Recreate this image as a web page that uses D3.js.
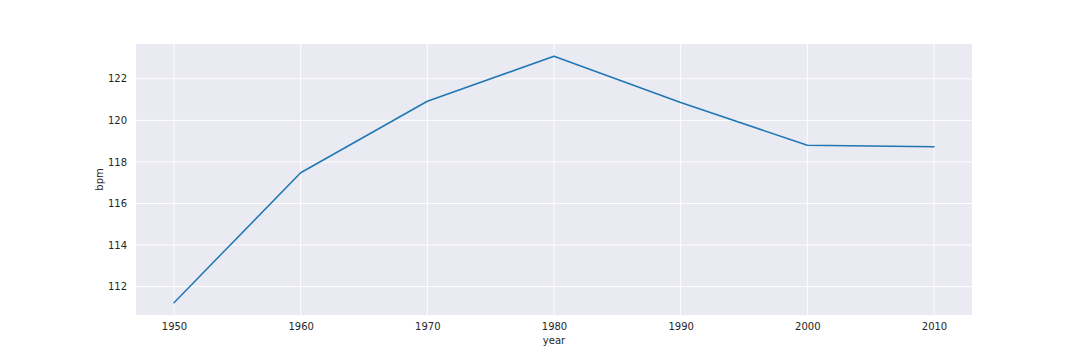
<!DOCTYPE html>
<html>
<head>
<meta charset="utf-8">
<script src="https://cdn.jsdelivr.net/npm/d3@7"></script>
<style>
  body { margin: 0; background: #fff; }
  svg { font-family: "DejaVu Sans", sans-serif; }
</style>
</head>
<body>
<svg id="chart" width="1080" height="360"></svg>
<script>
const years = [1950, 1960, 1970, 1980, 1990, 2000, 2010];
const bpm = [111.23, 117.48, 120.92, 123.08, 120.86, 118.80, 118.73];
const yTicks = [112, 114, 116, 118, 120, 122];
const xTicks = [1950, 1960, 1970, 1980, 1990, 2000, 2010];

const width = 1080;
const height = 360;
const margin = { top: 44, right: 108, bottom: 45, left: 136 };

const svg = d3.select("#chart");

const xScale = d3.scaleLinear()
  .domain([1947, 2013])
  .range([margin.left, width - margin.right]);

const yExt = d3.extent(bpm);
const pad = (yExt[1] - yExt[0]) * 0.05;
const yScale = d3.scaleLinear()
  .domain([yExt[0] - pad, yExt[1] + pad])
  .range([height - margin.bottom, margin.top]);

// Background
svg.append("rect")
  .attr("x", margin.left)
  .attr("y", margin.top)
  .attr("width", width - margin.left - margin.right)
  .attr("height", height - margin.top - margin.bottom)
  .attr("fill", "#eaeaf2");

// Grid
svg.append("g")
  .selectAll("line")
  .data(xTicks)
  .enter()
  .append("line")
  .attr("x1", d => xScale(d))
  .attr("x2", d => xScale(d))
  .attr("y1", margin.top)
  .attr("y2", height - margin.bottom)
  .attr("stroke", "#fff")
  .attr("stroke-width", 1);

svg.append("g")
  .selectAll("line")
  .data(yTicks)
  .enter()
  .append("line")
  .attr("x1", margin.left)
  .attr("x2", width - margin.right)
  .attr("y1", d => yScale(d))
  .attr("y2", d => yScale(d))
  .attr("stroke", "#fff")
  .attr("stroke-width", 1);

// X-Axis
const xAxis = d3.axisBottom(xScale)
  .tickValues(xTicks)
  .tickFormat(d3.format("d"))
  .tickSize(0)
  .tickPadding(8);
const gx = svg.append("g")
  .attr("transform", `translate(0, ${height - margin.bottom})`)
  .call(xAxis);
gx.select(".domain").remove();
gx.selectAll("text").attr("font-size", 10).attr("fill", "#262626").attr("font-family", "DejaVu Sans");

// Y-Axis
const yAxis = d3.axisLeft(yScale)
  .tickValues(yTicks)
  .tickSize(0)
  .tickPadding(9);
const gy = svg.append("g")
  .attr("transform", `translate(${margin.left}, 0)`)
  .call(yAxis);
gy.select(".domain").remove();
gy.selectAll("text").attr("font-size", 10).attr("fill", "#262626").attr("font-family", "DejaVu Sans");

// Labels
svg.append("text")
  .attr("x", (margin.left + width - margin.right) / 2)
  .attr("y", 344)
  .attr("text-anchor", "middle")
  .attr("font-size", 10)
  .attr("fill", "#262626")
  .text("year");

svg.append("text")
  .attr("transform", `translate(103, ${(margin.top + height - margin.bottom) / 2}) rotate(-90)`)
  .attr("text-anchor", "middle")
  .attr("font-size", 10)
  .attr("fill", "#262626")
  .text("bpm");

// Line
const line = d3.line()
  .x((d, i) => xScale(years[i]))
  .y(d => yScale(d));

svg.append("path")
  .datum(bpm)
  .attr("d", line)
  .attr("fill", "none")
  .attr("stroke", "#1f77b4")
  .attr("stroke-width", 1.5)
  .attr("stroke-linejoin", "round")
  .attr("stroke-linecap", "round");
</script>
</body>
</html>
